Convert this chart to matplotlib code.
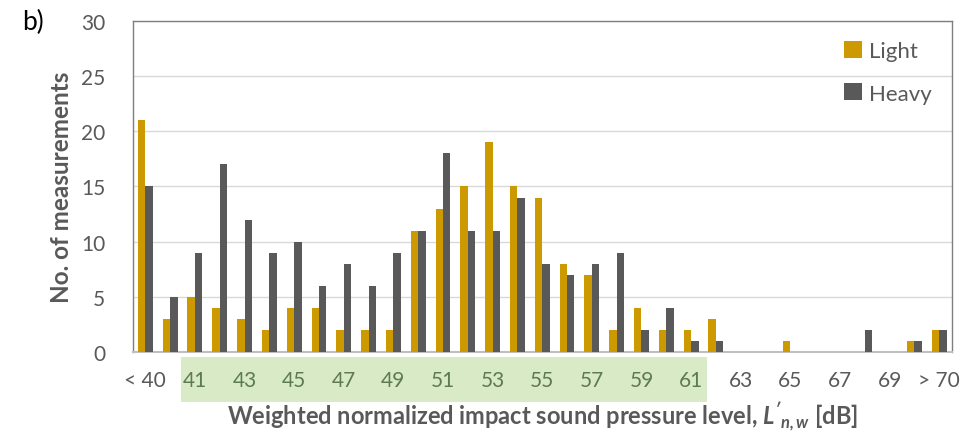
import matplotlib.pyplot as plt
import numpy as np
from matplotlib.patches import Rectangle

plt.rcParams['font.family'] = ['Lato', 'DejaVu Sans']
plt.rcParams['mathtext.fontset'] = 'custom'
plt.rcParams['mathtext.bfit'] = 'Lato:bold:italic'
plt.rcParams['mathtext.it'] = 'Lato:bold:italic'
plt.rcParams['mathtext.rm'] = 'Lato:bold'

# categories: < 40, 40 ... 70, > 70
categories = ['< 40'] + [str(v) for v in range(40, 71)] + ['> 70']
tick_labels = ['< 40'] + [str(v) for v in range(41, 70, 2)] + ['> 70']

light = [21, 3, 5, 4, 3, 2, 4, 4, 2, 2, 2, 11, 13, 15, 19, 15, 14, 8, 7, 2, 4, 2, 2, 3,
         0, 0, 1, 0, 0, 0, 0, 1, 2]
heavy = [15, 5, 9, 17, 12, 9, 10, 6, 8, 6, 9, 11, 18, 11, 11, 14, 8, 7, 8, 9, 2, 4, 1, 1,
         0, 0, 0, 0, 0, 2, 0, 1, 2]

gold = '#cc9900'
grey = '#595959'
txt = '#595959'

fig = plt.figure(figsize=(9.77, 4.35), dpi=100)
ax = fig.add_axes([0.136, 0.1885, 0.838, 0.761])

x = np.arange(len(categories))
w = 0.3
ax.bar(x - w / 2, light, w, color=gold, label='Light', zorder=3)
ax.bar(x + w / 2, heavy, w, color=grey, label='Heavy', zorder=3)

ax.set_xlim(-0.5, len(categories) - 0.5)
ax.set_ylim(0, 30)
ax.set_yticks(range(0, 31, 5))
ax.yaxis.grid(True, color='#d9d9d9', linewidth=1, zorder=0)
ax.set_axisbelow(True)

tick_pos = [categories.index(t) for t in tick_labels]
ax.set_xticks(tick_pos)
ax.set_xticklabels(tick_labels)
ax.tick_params(axis='both', length=0, labelsize=15, colors=txt)
ax.tick_params(axis='x', pad=13)
ax.tick_params(axis='y', pad=20)
for lab in ax.get_xticklabels():
    t = lab.get_text()
    if t.isdigit() and 41 <= int(t) <= 61:
        lab.set_color('#5e7a52')

for s in ['left', 'top', 'right']:
    ax.spines[s].set_color('#7f7f7f')
    ax.spines[s].set_linewidth(1)
ax.spines['bottom'].set_color('#bfbfbf')
ax.spines['bottom'].set_linewidth(1.5)

# green highlight behind tick labels 41..61
ax.add_patch(Rectangle((181 / 977, 1 - 403 / 435), (707 - 181) / 977, 45 / 435,
                       transform=fig.transFigure, facecolor='#d9ebc6',
                       edgecolor='none', zorder=0.5, clip_on=False))

ax.set_ylabel('No. of measurements', fontsize=17.5, fontweight='bold', color=txt, labelpad=6)
ax.set_xlabel("Weighted normalized impact sound pressure level, $\\mathbfit{L'_{n,w}}$ [dB]",
              fontsize=17, fontweight='bold', color=txt, labelpad=6)

ax.legend(loc='upper right', frameon=False, fontsize=16, labelcolor=txt,
          handlelength=0.8, handleheight=0.8, handletextpad=0.3,
          labelspacing=1.0, borderaxespad=0.5)

fig.text(22 / 977, 1 - 22 / 435, 'b)', fontsize=19, color='black', va='center')

fig.savefig('out.png', dpi=100)
